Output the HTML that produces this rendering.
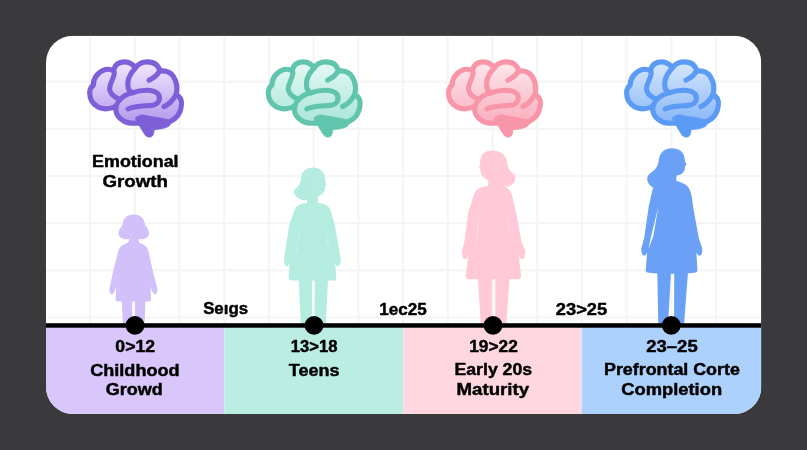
<!DOCTYPE html>
<html><head><meta charset="utf-8"><title>Brain development timeline</title>
<style>
html,body{margin:0;padding:0;background:#3A3A3C;}
body{width:807px;height:450px;overflow:hidden;font-family:"Liberation Sans",sans-serif;}
svg{display:block;}
</style></head><body>
<svg width="807" height="450" viewBox="0 0 807 450">
<defs><filter id="noop" x="0" y="0" width="807" height="450" filterUnits="userSpaceOnUse" color-interpolation-filters="sRGB"><feOffset dx="0" dy="0"/></filter></defs>
<defs><clipPath id="card"><rect x="46.0" y="35.7" width="715.3" height="378.3" rx="27" ry="27"/></clipPath></defs>
<rect width="807" height="450" fill="#3A3A3C"/>
<g clip-path="url(#card)">
<rect x="46.0" y="35.7" width="715.3" height="378.3" fill="#FFFFFF"/>
<g stroke="#F5F5F6" stroke-width="2.2"><line x1="90.10" y1="35.7" x2="90.10" y2="326"/><line x1="134.81" y1="35.7" x2="134.81" y2="326"/><line x1="179.51" y1="35.7" x2="179.51" y2="326"/><line x1="224.22" y1="35.7" x2="224.22" y2="326"/><line x1="268.93" y1="35.7" x2="268.93" y2="326"/><line x1="313.63" y1="35.7" x2="313.63" y2="326"/><line x1="358.34" y1="35.7" x2="358.34" y2="326"/><line x1="403.05" y1="35.7" x2="403.05" y2="326"/><line x1="447.76" y1="35.7" x2="447.76" y2="326"/><line x1="492.46" y1="35.7" x2="492.46" y2="326"/><line x1="537.17" y1="35.7" x2="537.17" y2="326"/><line x1="581.88" y1="35.7" x2="581.88" y2="326"/><line x1="626.58" y1="35.7" x2="626.58" y2="326"/><line x1="671.29" y1="35.7" x2="671.29" y2="326"/><line x1="716.00" y1="35.7" x2="716.00" y2="326"/><line x1="46.0" y1="81.70" x2="761.3" y2="81.70"/><line x1="46.0" y1="128.86" x2="761.3" y2="128.86"/><line x1="46.0" y1="176.02" x2="761.3" y2="176.02"/><line x1="46.0" y1="223.18" x2="761.3" y2="223.18"/><line x1="46.0" y1="270.34" x2="761.3" y2="270.34"/><line x1="46.0" y1="317.50" x2="761.3" y2="317.50"/></g>
<rect x="46.0" y="326" width="178.4" height="90" fill="#D9C6FB"/>
<rect x="224.4" y="326" width="178.79999999999998" height="90" fill="#BBEEE3"/>
<rect x="403.2" y="326" width="178.59999999999997" height="90" fill="#FFD7E1"/>
<rect x="581.8" y="326" width="179.5" height="90" fill="#ADD1FD"/>
<g fill="#D2C0FA"><path d="M 133.8,214.5 C 127,214.5 123,218.5 122.6,225 C 120.5,227.5 118.5,230.5 118.5,233 C 118.5,237 122,239.3 127,239.3 L 140.6,239.3 C 145.6,239.3 149,237 149,233 C 149,230.5 147.2,227.5 145,225 C 144.6,218.5 140.6,214.5 133.8,214.5 Z"/><path d="M 129.3,238 C 129.3,241.5 128,243 125.5,243.8 C 121.5,245 119,247.5 118,252 L 113.4,270 L 109.6,288 C 109,291.5 110,294.3 111.6,294.3 C 113.2,294.3 114.2,292.5 114.8,290.5 L 116.2,287 L 115.6,299.3 C 115.6,300.8 116.2,301.4 117.5,301.4 L 149.2,301.4 C 150.5,301.4 151,300.8 151,299.3 L 150.6,287 L 152,290.5 C 152.6,292.5 153.6,294.3 155.2,294.3 C 156.8,294.3 157.8,291.5 157.2,288 L 152.6,270 L 148.6,252 C 147.6,247.5 145.5,245 141.5,243.8 C 139,243 138.3,241.5 138.3,238 Z"/><path d="M 121.8,299 L 132.2,299 L 132.2,325 L 122.9,325 Z"/><path d="M 135.1,299 L 145.6,299 L 144.5,325 L 135.1,325 Z"/></g>
<g fill="#B5ECE0"><path d="M 313,167.5 C 319.5,167.5 324.2,171.5 325.2,178 L 325.4,182 L 326.6,185 L 325.2,186.2 C 325,190 324,193 321.5,194.5 C 320,195.5 318.5,195.8 318,196 L 318,205 L 307,205 L 307,200 C 303,200.5 299,199.5 296.5,197 C 294,194.5 293,191.5 294.5,189.5 C 299,186 300.5,183 300.8,179 C 301.5,171.5 306,167.5 313,167.5 Z"/><path d="M 307,203 C 300,203.5 295.5,206 294,211.5 L 289.5,224 L 285.6,248 L 284.2,258 C 283.8,262 284.8,266.4 286.8,266.4 C 288.4,266.4 289.2,264 289.6,261.5 L 288.6,277 C 288.5,279.5 289.5,280.5 291.5,280.5 L 333.5,280.5 C 335.5,280.5 336.3,279.5 336.2,277 L 335,261.5 C 335.4,264 336.2,266.4 337.8,266.4 C 339.8,266.4 341,262 340.6,258 L 339,248 L 334.5,224 L 331,211.5 C 329.5,206 325,203.5 318,203 Z"/><path d="M 298.6,279 L 312,279 L 311.9,325 L 300.9,325 Z"/><path d="M 315,279 L 328,279 L 325.8,325 L 314.6,325 Z"/><path d="M 299.6,230 L 296.2,252 M 325.8,230 L 328.4,246" stroke="#CDF3EA" stroke-width="1" fill="none"/></g>
<g fill="#FFC9D8"><path d="M 491.7,150.5 C 485,150.5 480.8,154.5 480.2,161 L 480.2,164.5 L 478.8,167.5 L 480.2,168.8 C 480.4,172.5 481.5,176 484,177.8 C 485.5,179 487.5,179.8 488.3,180.2 L 488.3,189 L 504,189 L 504,186.5 C 508,187 512,185.5 514,182.5 C 516,179.5 516,176 514,174 C 509.5,171 507.8,168 507.3,163 C 506.5,155 500.5,150.5 491.7,150.5 Z"/><path d="M 488.3,186 C 481,186.5 475.8,189 474,194.5 L 468.3,212 L 464.3,242.5 L 462,250 C 461.3,254 462.5,259.3 464.8,259.3 C 466.5,259.3 467.6,257 468.2,255 L 465.8,275.5 C 465.6,278 466.6,279.3 468.8,279.3 L 518,279.3 C 520.2,279.3 521.2,278 521,275.5 L 518.9,255 C 519.5,257 520.6,259.3 522.3,259.3 C 524.6,259.3 525.8,254 525.1,250 L 521.7,242.5 L 516,212 L 511.8,194.5 C 510,189 505,186.5 504,186 Z"/><path d="M 477.9,278 L 492,278 L 491.7,325 L 480.8,325 Z"/><path d="M 495.2,278 L 509.6,278 L 506.3,325 L 495.3,325 Z"/><path d="M 479.4,218 L 476,242 M 507.2,218 L 510.5,234" stroke="#FFDCE6" stroke-width="1" fill="none"/></g>
<g fill="#6AA1F6" fill-rule="evenodd"><path d="M 672,148.3 C 679,148.3 683.8,152 684.6,158 L 685.2,162 L 686.6,164.6 L 685.2,166 C 685,169.5 684.2,172.5 681.5,174 C 679.5,175 677.5,175.4 676.4,175.8 L 676.4,184 L 662,190 L 653,187.5 C 650,186 647.2,182.5 647.2,179 C 647.2,175.5 649.5,173.5 652.5,171.5 C 656.5,168.5 658.3,165 658.8,160 C 659.8,152.5 664.5,148.3 672,148.3 Z"/><path d="M 676.4,181 C 682,182.5 687,184.5 689,188.5 C 690.5,191.5 691.5,195 692,198 L 693.1,206.7 L 698.7,237.8 L 702,247.7 C 702.8,251 701.8,255.7 699.6,255.7 C 698,255.7 697,253.8 696.4,251.9 L 697.4,270 C 697.5,271.5 697,272.3 695.5,272.6 C 688,274.2 655,274.2 647.6,272.6 C 646.1,272.3 645.6,271.5 645.7,270 L 647.2,251.9 C 646.6,253.8 645.8,255.7 644.2,255.7 C 642,255.7 640.8,251 641.5,247.7 L 644.2,237.8 L 648.7,206.7 L 653,187.5 Z M 658.2,207 L 651.2,236 L 648.2,249.5 L 653.4,236 Z"/><path d="M 657.3,272 L 671,272 L 668,325 L 658.3,325 Z"/><path d="M 674.2,272 L 688,272 L 684,325 L 674.1,325 Z"/></g>
<g fill="#000" fill-opacity="0.08"><circle cx="123.2" cy="233.2" r="0.55"/><circle cx="125.4" cy="235.2" r="0.55"/><circle cx="128.3" cy="236.4" r="0.55"/><circle cx="134.2" cy="236.4" r="0.55"/><circle cx="137.4" cy="233.4" r="0.55"/><circle cx="122.4" cy="235.4" r="0.55"/><circle cx="307.2" cy="179.4" r="0.55"/><circle cx="304.6" cy="187.2" r="0.55"/><circle cx="301.6" cy="188.6" r="0.55"/><circle cx="302.2" cy="192.6" r="0.55"/><circle cx="304.4" cy="195.4" r="0.55"/><circle cx="300.0" cy="191.0" r="0.55"/><circle cx="298.8" cy="194.0" r="0.55"/><circle cx="493.4" cy="159.4" r="0.55"/><circle cx="495.4" cy="167.6" r="0.55"/><circle cx="500.6" cy="165.4" r="0.55"/><circle cx="497.0" cy="170.0" r="0.55"/><circle cx="509.6" cy="182.0" r="0.55"/><circle cx="512.4" cy="179.6" r="0.55"/><circle cx="479.2" cy="200.2" r="0.55"/><circle cx="485.0" cy="200.4" r="0.55"/><circle cx="476.6" cy="209.2" r="0.55"/><circle cx="486.4" cy="213.4" r="0.55"/><circle cx="493.4" cy="221.0" r="0.55"/><circle cx="485.2" cy="223.0" r="0.55"/><circle cx="487.4" cy="225.4" r="0.55"/><circle cx="484.8" cy="229.0" r="0.55"/><circle cx="480.2" cy="233.2" r="0.55"/><circle cx="477.2" cy="237.4" r="0.55"/><circle cx="478.6" cy="243.0" r="0.55"/><circle cx="484.0" cy="242.4" r="0.55"/><circle cx="470.5" cy="262.0" r="0.55"/><circle cx="474.0" cy="266.5" r="0.55"/><circle cx="478.5" cy="259.5" r="0.55"/><circle cx="483.0" cy="268.0" r="0.55"/><circle cx="487.5" cy="263.0" r="0.55"/><circle cx="472.5" cy="272.0" r="0.55"/><circle cx="480.0" cy="274.0" r="0.55"/><circle cx="492.0" cy="270.0" r="0.55"/><circle cx="476.0" cy="255.0" r="0.55"/><circle cx="489.0" cy="257.0" r="0.55"/><circle cx="497.0" cy="274.5" r="0.55"/><circle cx="503.0" cy="268.0" r="0.55"/></g>
<defs><linearGradient id="bg0" x1="0" y1="0" x2="0" y2="1"><stop offset="0.1" stop-color="#EBE0FC"/><stop offset="0.9" stop-color="#B8A0EE"/></linearGradient></defs>
<g transform="translate(80.0,50) scale(0.21113)" stroke-linecap="round" stroke-linejoin="round">
<path d="M 46,204 C 46,188 52,174 63,166 C 62,140 80,105 118,93 C 135,89 148,92 158,98 C 165,70 185,56 210,56 C 235,56 252,68 262,86 C 275,65 295,56 318,56 C 350,56 372,72 378,100 C 395,98 425,100 442,125 C 458,150 462,185 455,212 C 475,220 484,240 480,265 C 476,300 455,325 428,338 C 400,350 370,352 345,350 L 285,345 C 260,348 225,348 205,335 C 178,320 164,292 172,264 C 150,280 110,284 85,270 C 60,256 46,232 46,204 Z" fill="url(#bg0)" stroke="#7E5FD8" stroke-width="24.5"/>
<path d="M 262,322 C 275,310 290,306 300,308 C 320,312 340,316 355,318 C 385,322 410,328 428,334 C 432,345 428,358 415,364 C 400,372 375,376 352,377 L 348,396 C 346,412 330,416 318,410 C 310,406 306,400 304,396 L 270,340 Z" fill="#7E5FD8" stroke="#7E5FD8" stroke-width="4"/>
<path d="M 160,98 C 172,120 142,150 140,182 C 140,207 165,224 188,234" fill="none" stroke="#7E5FD8" stroke-width="24"/>
<path d="M 258,90 C 235,115 222,150 228,180 C 232,193 240,200 250,203" fill="none" stroke="#7E5FD8" stroke-width="24"/>
<path d="M 172,264 C 182,235 210,212 250,202 C 290,188 345,184 368,206 C 385,226 375,254 350,260 C 320,266 262,262 228,279" fill="none" stroke="#7E5FD8" stroke-width="24"/>
<path d="M 376,100 C 368,118 350,132 327,143" fill="none" stroke="#7E5FD8" stroke-width="24"/>
<path d="M 453,214 C 440,240 420,258 398,268" fill="none" stroke="#7E5FD8" stroke-width="24"/>
</g>
<defs><linearGradient id="bg1" x1="0" y1="0" x2="0" y2="1"><stop offset="0.1" stop-color="#E0F7F2"/><stop offset="0.9" stop-color="#AFE7DA"/></linearGradient></defs>
<g transform="translate(258.6,50) scale(0.21113)" stroke-linecap="round" stroke-linejoin="round">
<path d="M 46,204 C 46,188 52,174 63,166 C 62,140 80,105 118,93 C 135,89 148,92 158,98 C 165,70 185,56 210,56 C 235,56 252,68 262,86 C 275,65 295,56 318,56 C 350,56 372,72 378,100 C 395,98 425,100 442,125 C 458,150 462,185 455,212 C 475,220 484,240 480,265 C 476,300 455,325 428,338 C 400,350 370,352 345,350 L 285,345 C 260,348 225,348 205,335 C 178,320 164,292 172,264 C 150,280 110,284 85,270 C 60,256 46,232 46,204 Z" fill="url(#bg1)" stroke="#61C5AE" stroke-width="24.5"/>
<path d="M 262,322 C 275,310 290,306 300,308 C 320,312 340,316 355,318 C 385,322 410,328 428,334 C 432,345 428,358 415,364 C 400,372 375,376 352,377 L 348,396 C 346,412 330,416 318,410 C 310,406 306,400 304,396 L 270,340 Z" fill="#61C5AE" stroke="#61C5AE" stroke-width="4"/>
<path d="M 160,98 C 172,120 142,150 140,182 C 140,207 165,224 188,234" fill="none" stroke="#61C5AE" stroke-width="24"/>
<path d="M 258,90 C 235,115 222,150 228,180 C 232,193 240,200 250,203" fill="none" stroke="#61C5AE" stroke-width="24"/>
<path d="M 172,264 C 182,235 210,212 250,202 C 290,188 345,184 368,206 C 385,226 375,254 350,260 C 320,266 262,262 228,279" fill="none" stroke="#61C5AE" stroke-width="24"/>
<path d="M 376,100 C 368,118 350,132 327,143" fill="none" stroke="#61C5AE" stroke-width="24"/>
<path d="M 453,214 C 440,240 420,258 398,268" fill="none" stroke="#61C5AE" stroke-width="24"/>
</g>
<defs><linearGradient id="bg2" x1="0" y1="0" x2="0" y2="1"><stop offset="0.1" stop-color="#FDE2E8"/><stop offset="0.9" stop-color="#FAB4C3"/></linearGradient></defs>
<g transform="translate(438.8,50) scale(0.21113)" stroke-linecap="round" stroke-linejoin="round">
<path d="M 46,204 C 46,188 52,174 63,166 C 62,140 80,105 118,93 C 135,89 148,92 158,98 C 165,70 185,56 210,56 C 235,56 252,68 262,86 C 275,65 295,56 318,56 C 350,56 372,72 378,100 C 395,98 425,100 442,125 C 458,150 462,185 455,212 C 475,220 484,240 480,265 C 476,300 455,325 428,338 C 400,350 370,352 345,350 L 285,345 C 260,348 225,348 205,335 C 178,320 164,292 172,264 C 150,280 110,284 85,270 C 60,256 46,232 46,204 Z" fill="url(#bg2)" stroke="#F895A8" stroke-width="24.5"/>
<path d="M 262,322 C 275,310 290,306 300,308 C 320,312 340,316 355,318 C 385,322 410,328 428,334 C 432,345 428,358 415,364 C 400,372 375,376 352,377 L 348,396 C 346,412 330,416 318,410 C 310,406 306,400 304,396 L 270,340 Z" fill="#F895A8" stroke="#F895A8" stroke-width="4"/>
<path d="M 160,98 C 172,120 142,150 140,182 C 140,207 165,224 188,234" fill="none" stroke="#F895A8" stroke-width="24"/>
<path d="M 258,90 C 235,115 222,150 228,180 C 232,193 240,200 250,203" fill="none" stroke="#F895A8" stroke-width="24"/>
<path d="M 172,264 C 182,235 210,212 250,202 C 290,188 345,184 368,206 C 385,226 375,254 350,260 C 320,266 262,262 228,279" fill="none" stroke="#F895A8" stroke-width="24"/>
<path d="M 376,100 C 368,118 350,132 327,143" fill="none" stroke="#F895A8" stroke-width="24"/>
<path d="M 453,214 C 440,240 420,258 398,268" fill="none" stroke="#F895A8" stroke-width="24"/>
</g>
<defs><linearGradient id="bg3" x1="0" y1="0" x2="0" y2="1"><stop offset="0.1" stop-color="#CFE2FC"/><stop offset="0.9" stop-color="#8FBBF8"/></linearGradient></defs>
<g transform="translate(616.9,50) scale(0.21113)" stroke-linecap="round" stroke-linejoin="round">
<path d="M 46,204 C 46,188 52,174 63,166 C 62,140 80,105 118,93 C 135,89 148,92 158,98 C 165,70 185,56 210,56 C 235,56 252,68 262,86 C 275,65 295,56 318,56 C 350,56 372,72 378,100 C 395,98 425,100 442,125 C 458,150 462,185 455,212 C 475,220 484,240 480,265 C 476,300 455,325 428,338 C 400,350 370,352 345,350 L 285,345 C 260,348 225,348 205,335 C 178,320 164,292 172,264 C 150,280 110,284 85,270 C 60,256 46,232 46,204 Z" fill="url(#bg3)" stroke="#5B9BF5" stroke-width="24.5"/>
<path d="M 262,322 C 275,310 290,306 300,308 C 320,312 340,316 355,318 C 385,322 410,328 428,334 C 432,345 428,358 415,364 C 400,372 375,376 352,377 L 348,396 C 346,412 330,416 318,410 C 310,406 306,400 304,396 L 270,340 Z" fill="#5B9BF5" stroke="#5B9BF5" stroke-width="4"/>
<path d="M 160,98 C 172,120 142,150 140,182 C 140,207 165,224 188,234" fill="none" stroke="#5B9BF5" stroke-width="24"/>
<path d="M 258,90 C 235,115 222,150 228,180 C 232,193 240,200 250,203" fill="none" stroke="#5B9BF5" stroke-width="24"/>
<path d="M 172,264 C 182,235 210,212 250,202 C 290,188 345,184 368,206 C 385,226 375,254 350,260 C 320,266 262,262 228,279" fill="none" stroke="#5B9BF5" stroke-width="24"/>
<path d="M 376,100 C 368,118 350,132 327,143" fill="none" stroke="#5B9BF5" stroke-width="24"/>
<path d="M 453,214 C 440,240 420,258 398,268" fill="none" stroke="#5B9BF5" stroke-width="24"/>
</g>
<rect x="46.0" y="323.2" width="715.3" height="4.5" fill="#000"/>
<circle cx="135.0" cy="325.45" r="9.4" fill="#000"/>
<circle cx="314.05" cy="325.45" r="9.4" fill="#000"/>
<circle cx="493.05" cy="325.45" r="9.4" fill="#000"/>
<circle cx="671.3" cy="325.45" r="9.4" fill="#000"/>
<g font-family="'Liberation Sans', sans-serif" font-weight="700" fill="#000" stroke="#000" stroke-width="0.45" stroke-linejoin="round" text-anchor="middle" filter="url(#noop)"><text x="135.3" y="167.1" font-size="16.6" textLength="86.6" lengthAdjust="spacingAndGlyphs">Emotional</text>
<text x="135.2" y="187.0" font-size="16.6" textLength="65.4" lengthAdjust="spacingAndGlyphs">Growth</text>
<text x="135.2" y="352.1" font-size="16" textLength="39.7" lengthAdjust="spacingAndGlyphs">0&gt;12</text>
<text x="134.9" y="375.7" font-size="16" textLength="89.3" lengthAdjust="spacingAndGlyphs">Childhood</text>
<text x="134.3" y="394.9" font-size="16" textLength="56.9" lengthAdjust="spacingAndGlyphs">Growd</text>
<text x="314.1" y="352.1" font-size="16" textLength="46.5" lengthAdjust="spacingAndGlyphs">13&gt;18</text>
<text x="314.2" y="375.7" font-size="16" textLength="50.7" lengthAdjust="spacingAndGlyphs">Teens</text>
<text x="493.5" y="352.1" font-size="16" textLength="48.5" lengthAdjust="spacingAndGlyphs">19&gt;22</text>
<text x="493.3" y="375.2" font-size="16" textLength="77.6" lengthAdjust="spacingAndGlyphs">Early 20s</text>
<text x="492.8" y="394.9" font-size="16" textLength="72.5" lengthAdjust="spacingAndGlyphs">Maturity</text>
<text x="672.0" y="352.1" font-size="16" textLength="51.3" lengthAdjust="spacingAndGlyphs">23–25</text>
<text x="671.9" y="375.1" font-size="16" textLength="135.8" lengthAdjust="spacingAndGlyphs">Prefrontal Corte</text>
<text x="671.7" y="394.9" font-size="16" textLength="100.8" lengthAdjust="spacingAndGlyphs">Completion</text>
<text x="225.6" y="314.0" font-size="16" textLength="44.9" lengthAdjust="spacingAndGlyphs">Seıgs</text>
<text x="403.0" y="314.7" font-size="16" textLength="47.4" lengthAdjust="spacingAndGlyphs">1ec25</text>
<text x="581.5" y="314.7" font-size="16" textLength="51.3" lengthAdjust="spacingAndGlyphs">23&gt;25</text></g>
</g>
</svg>
</body></html>
